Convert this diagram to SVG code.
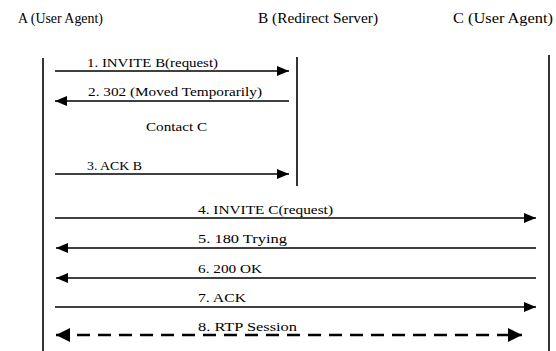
<svg xmlns="http://www.w3.org/2000/svg" width="556" height="351" viewBox="0 0 556 351">
<defs>
<marker id="ah" viewBox="0 0 12 10" refX="12" refY="5" markerWidth="12" markerHeight="10" markerUnits="userSpaceOnUse" orient="auto-start-reverse">
<path d="M0,0 L12,5 L0,10 Z" fill="#000"/>
</marker>
<marker id="ahb" viewBox="0 0 14 14" refX="14" refY="7" markerWidth="14" markerHeight="14" markerUnits="userSpaceOnUse" orient="auto-start-reverse">
<path d="M0,0 L14,7 L0,14 Z" fill="#000"/>
</marker>
</defs>
<style>
text{font-family:"Liberation Serif","DejaVu Serif",serif;fill:#000;}
.hd{font-size:14px;}
.lb{font-size:13.5px;}
.life{stroke:#000;stroke-width:1.6;fill:none;}
.msg{stroke:#000;stroke-width:1.5;fill:none;marker-end:url(#ah);}
.rmsg{stroke:#000;stroke-width:1.5;fill:none;marker-start:url(#ah);}
.rtp{stroke:#000;stroke-width:2.5;fill:none;stroke-dasharray:13 8;marker-start:url(#ahb);marker-end:url(#ahb);}
</style>
<rect width="556" height="351" fill="#fff"/>
<g id="nodeA">
<text class="hd" x="18" y="23" textLength="85" lengthAdjust="spacingAndGlyphs">A (User Agent)</text>
<line class="life" x1="43" y1="58" x2="43" y2="351"/>
</g>
<g id="nodeB">
<text class="hd" x="258" y="23" textLength="120" lengthAdjust="spacingAndGlyphs">B (Redirect Server)</text>
<line class="life" x1="297" y1="57" x2="297" y2="186"/>
</g>
<g id="nodeC">
<text class="hd" x="453" y="23" textLength="100" lengthAdjust="spacingAndGlyphs">C (User Agent)</text>
<line class="life" x1="549" y1="55" x2="549" y2="351"/>
</g>
<g id="connectors">
<line class="msg" x1="55" y1="71" x2="289" y2="71"/>
<text class="lb" x="87" y="67" textLength="131" lengthAdjust="spacingAndGlyphs">1. INVITE B(request)</text>
<line class="rmsg" x1="55" y1="101" x2="289" y2="101"/>
<text class="lb" x="88" y="96" textLength="174" lengthAdjust="spacingAndGlyphs">2. 302 (Moved Temporarily)</text>
<text class="lb" x="146" y="131" textLength="61" lengthAdjust="spacingAndGlyphs">Contact C</text>
<line class="msg" x1="55" y1="174" x2="289" y2="174"/>
<text class="lb" x="87" y="170" textLength="55" lengthAdjust="spacingAndGlyphs">3. ACK B</text>
<line class="msg" x1="55" y1="218" x2="536" y2="218"/>
<text class="lb" x="198" y="214" textLength="135" lengthAdjust="spacingAndGlyphs">4. INVITE C(request)</text>
<line class="rmsg" x1="56" y1="248" x2="536" y2="248"/>
<text class="lb" x="198" y="243" textLength="89" lengthAdjust="spacingAndGlyphs">5. 180 Trying</text>
<line class="rmsg" x1="56" y1="278" x2="536" y2="278"/>
<text class="lb" x="198" y="273" textLength="64" lengthAdjust="spacingAndGlyphs">6. 200 OK</text>
<line class="msg" x1="55" y1="307" x2="536" y2="307"/>
<text class="lb" x="198" y="302" textLength="48" lengthAdjust="spacingAndGlyphs">7. ACK</text>
<line class="rtp" x1="56" y1="335" x2="522" y2="335"/>
<text class="lb" x="198" y="331" textLength="99" lengthAdjust="spacingAndGlyphs">8. RTP Session</text>
</g>
</svg>
